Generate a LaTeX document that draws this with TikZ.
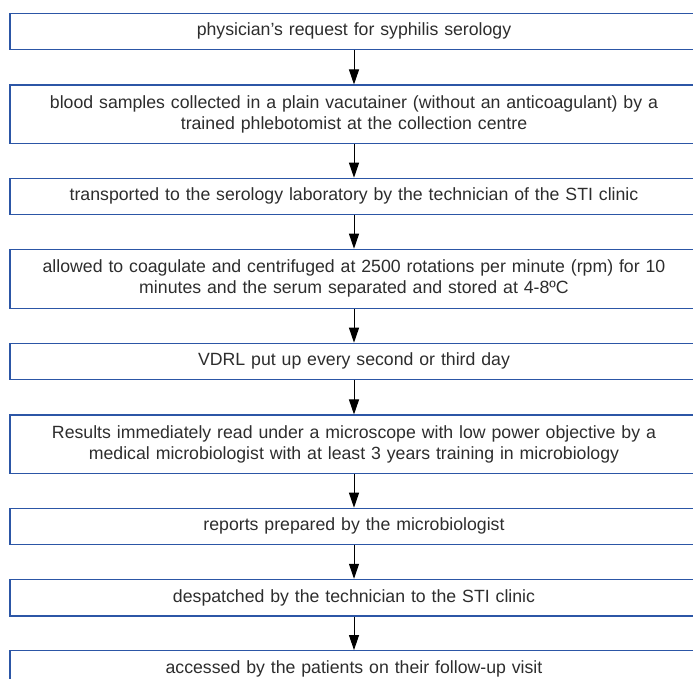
\documentclass[tikz,border=0pt]{standalone}
\usepackage{fontspec}
\setmainfont{Liberation Sans}
\usetikzlibrary{arrows.meta}
\definecolor{boxblue}{RGB}{44,86,166}
\definecolor{txtgray}{RGB}{45,45,45}
\tikzset{
  stepbox/.style={draw=boxblue, line width=1.2pt, rectangle, minimum width=688pt,
    text width=660pt, align=center, inner sep=0pt, text=txtgray,
    font=\fontsize{17.7pt}{21pt}\selectfont},
  flow/.style={draw=black, line width=1pt, -{Triangle[width=10pt,length=15pt]}}
}
\begin{document}
\begin{tikzpicture}[x=1pt,y=-1pt]
\useasboundingbox (0,0) rectangle (693,679);
\clip (0,0) rectangle (693,679);
\node[stepbox, minimum height=36pt] (b1) at (354,31.3) {physician’s request for syphilis serology};
\node[stepbox, minimum height=58.3pt] (b2) at (354,114.2) {blood samples collected in a plain vacutainer (without an anticoagulant) by a\\ trained phlebotomist at the collection centre};
\node[stepbox, minimum height=36pt] (b3) at (354,196.3) {transported to the serology laboratory by the technician of the STI clinic};
\node[stepbox, minimum height=59pt] (b4) at (354,278.8) {allowed to coagulate and centrifuged at 2500 rotations per minute (rpm) for 10\\ minutes and the serum separated and stored at 4-8ºC};
\node[stepbox, minimum height=36pt] (b5) at (354,361.3) {VDRL put up every second or third day};
\node[stepbox, minimum height=58.3pt] (b6) at (354,444.2) {Results immediately read under a microscope with low power objective by a\\ medical microbiologist with at least 3 years training in microbiology};
\node[stepbox, minimum height=36pt] (b7) at (354,526.3) {reports prepared by the microbiologist};
\node[stepbox, minimum height=36.7pt] (b8) at (354,597.7) {despatched by the technician to the STI clinic};
\node[stepbox, minimum height=36pt] (b9) at (354,668.7) {accessed by the patients on their follow-up visit};
\foreach \a/\b in {b1/b2,b2/b3,b3/b4,b4/b5,b5/b6,b6/b7,b7/b8,b8/b9}
  \draw[flow] (\a.south) -- (\b.north);
\end{tikzpicture}
\end{document}
